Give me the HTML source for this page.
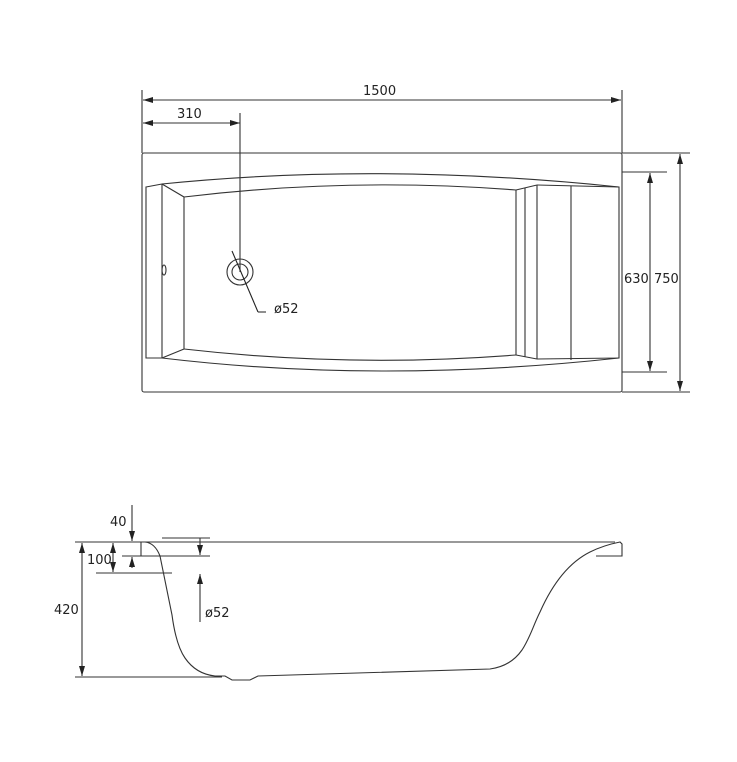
<!DOCTYPE html>
<html><head><meta charset="utf-8"><style>
html,body{margin:0;padding:0;background:#fff;}
svg{display:block;}
text{font-family:"DejaVu Sans","Liberation Sans",sans-serif;font-size:13px;fill:#222;}
</style></head><body>
<svg width="737" height="762" viewBox="0 0 737 762" xmlns="http://www.w3.org/2000/svg">
<defs>
<marker id="a" viewBox="0 0 10 6" refX="10" refY="3" markerWidth="10" markerHeight="6" orient="auto-start-reverse" markerUnits="userSpaceOnUse"><path d="M0,0L10,3L0,6z" fill="#222"/></marker>
</defs>
<g stroke="#333" stroke-width="1.1" fill="none">
<!-- top dims -->
<line x1="142" y1="90" x2="142" y2="153"/>
<line x1="622" y1="90" x2="622" y2="153"/>
<line x1="143" y1="100" x2="621" y2="100" marker-start="url(#a)" marker-end="url(#a)"/>
<line x1="143" y1="123" x2="240" y2="123" marker-start="url(#a)" marker-end="url(#a)"/>
<line x1="240" y1="113" x2="240" y2="272"/>
<!-- outer rect -->
<rect x="142" y="153" width="480" height="239" rx="2"/>
<line x1="622" y1="153" x2="690" y2="153"/>
<line x1="622" y1="392" x2="690" y2="392"/>
<line x1="622" y1="172" x2="667" y2="172"/>
<line x1="622" y1="372" x2="667" y2="372"/>
<line x1="650" y1="173" x2="650" y2="371" marker-start="url(#a)" marker-end="url(#a)"/>
<line x1="680" y1="154" x2="680" y2="391" marker-start="url(#a)" marker-end="url(#a)"/>
<!-- left panel -->
<path d="M146,187 L162,184 L162,358 L146,358 Z"/>
<path d="M162,184 L184,197 L184,349 L162,358"/>
<ellipse cx="164" cy="270" rx="2" ry="5"/>
<!-- right panel -->
<path d="M537,185 L619,187 L619,358 L537,359"/>
<line x1="516" y1="190" x2="516" y2="355"/>
<line x1="525" y1="188" x2="525" y2="357"/>
<line x1="537" y1="185" x2="537" y2="359"/>
<line x1="571" y1="186" x2="571" y2="360"/>
<path d="M516,190 L537,185"/><path d="M516,355 L537,359"/>
<!-- rim curves -->
<path d="M162,184 Q380,162 619,187"/>
<path d="M184,197 Q350,177 516,190"/>
<path d="M162,358 Q380,384 619,358"/>
<path d="M184,349 Q350,368 516,355"/>
<!-- drain -->
<circle cx="240" cy="272" r="13"/>
<circle cx="240" cy="272" r="8"/>
<line x1="232" y1="251" x2="258" y2="312" stroke="#222"/>
<line x1="258" y1="312" x2="266" y2="312"/>
<!-- side view -->
<line x1="75" y1="542" x2="615" y2="542"/>
<line x1="75" y1="677" x2="222" y2="677"/>
<line x1="82" y1="543" x2="82" y2="676" marker-start="url(#a)" marker-end="url(#a)"/>
<line x1="122" y1="556" x2="210" y2="556"/>
<line x1="96" y1="573" x2="172" y2="573"/>
<line x1="162" y1="538" x2="210" y2="538"/>
<line x1="113" y1="543" x2="113" y2="572" marker-start="url(#a)" marker-end="url(#a)"/>
<line x1="132" y1="505" x2="132" y2="541" marker-end="url(#a)"/>
<line x1="132" y1="568" x2="132" y2="557" marker-end="url(#a)"/>
<line x1="200" y1="538" x2="200" y2="555" marker-end="url(#a)"/>
<line x1="200" y1="622" x2="200" y2="574" marker-end="url(#a)"/>
<!-- profile -->
<path d="M141,556 L141,542 L145,542 Q155,543 160,556 L172,615 Q176,645 185,658 Q196,674 215,676 L225,676 L232,680 L250,680 L258,676 L490,669 C505,667 515,660 522,650 C530,638 533,626 540,612 C552,585 568,563 590,552 C600,547 610,544 620,542 L622,544 L622,556 L596,556" stroke="#333"/>
</g>
<text x="363" y="95">1500</text>
<text x="177" y="118">310</text>
<text x="624" y="283">630</text>
<text x="654" y="283">750</text>
<text x="274" y="313">ø52</text>
<text x="110" y="526">40</text>
<text x="87" y="564">100</text>
<text x="54" y="614">420</text>
<text x="205" y="617">ø52</text>
</svg>
</body></html>
